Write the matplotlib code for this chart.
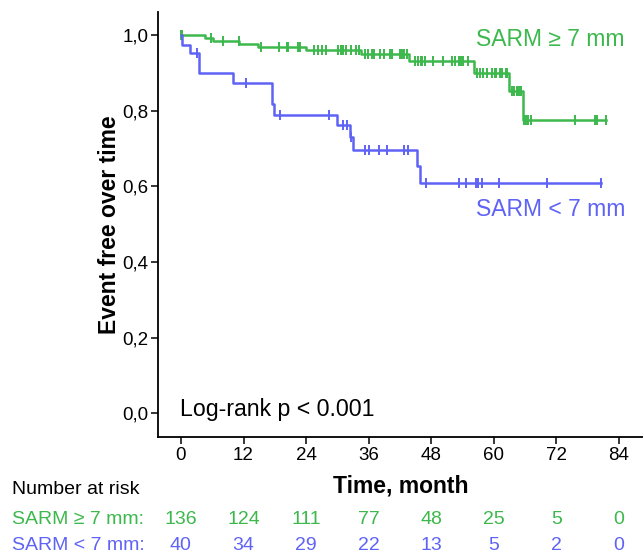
import numpy as np
import matplotlib
matplotlib.use("Agg")
import matplotlib.pyplot as plt
from matplotlib.transforms import blended_transform_factory
from matplotlib import font_manager

GREEN = "#3cb84c"
BLUE = "#5f63f5"

# SARM >= 7 mm: step times (months) and survival after each step
green_t = [0, 4.6, 6.1, 11.2, 14.7, 23.9, 34.6, 43.8, 56.1, 63.0, 65.5, 81.6]
green_s = [1.0, 0.992, 0.985, 0.977, 0.969, 0.962, 0.950, 0.933, 0.901, 0.853, 0.775, 0.775]
green_cens = [0.1, 0.3, 5.7, 8.1, 11.1, 15.3, 18.8, 20.4, 20.6, 22.4, 22.8, 25.6,
              26.3, 27.1, 27.9, 30.2, 30.7, 31.1, 31.6, 32.6, 33.5, 34.1, 35.3,
              35.9, 36.6, 37.1, 38.2, 39.0, 40.1, 40.5, 42.0, 42.3, 42.8, 43.4,
              44.9, 45.5, 46.0, 46.3, 46.8, 48.4, 50.3, 51.9, 52.5, 53.4, 53.7,
              54.0, 55.1, 56.8, 57.3, 58.0, 58.6, 59.6, 60.2, 60.5, 61.2, 61.6,
              62.3, 62.6, 63.4, 63.9, 64.5, 64.9, 65.3, 65.8, 66.2, 66.6, 67.1,
              75.6, 79.4, 79.7, 81.6]

# SARM < 7 mm
blue_t = [0, 0.3, 1.8, 3.5, 10.0, 17.5, 17.8, 30.0, 32.5, 33.0, 45.3, 45.8, 80.6]
blue_s = [1.0, 0.975, 0.952, 0.900, 0.875, 0.817, 0.790, 0.762, 0.730, 0.697, 0.653, 0.610, 0.610]
blue_cens = [3.0, 12.5, 19.0, 28.4, 31.1, 31.9, 32.7, 35.3, 36.1, 38.0, 39.6,
             42.8, 43.6, 47.0, 53.4, 54.7, 56.6, 57.0, 57.7, 61.0, 70.1, 80.6]

risk_times = [0, 12, 24, 36, 48, 60, 72, 84]
risk_green = [136, 124, 111, 77, 48, 25, 5, 0]
risk_blue = [40, 34, 29, 22, 13, 5, 2, 0]

names = {f.name for f in font_manager.fontManager.ttflist}
NARROW = "Liberation Sans Narrow" if "Liberation Sans Narrow" in names else "Liberation Sans"
plt.rcParams["font.family"] = ["Liberation Sans", "DejaVu Sans"]

fig = plt.figure(figsize=(6.43, 5.56), dpi=100)
ax = fig.add_axes([0.2457, 0.214, 0.7543, 0.764])


def level(ts, ss, x):
    i = np.searchsorted(ts, x, side="right") - 1
    return np.array(ss)[i]


for ts, ss, cens, col in [(green_t, green_s, green_cens, GREEN),
                          (blue_t, blue_s, blue_cens, BLUE)]:
    ax.step(ts, ss, where="post", color=col, lw=1.8)
    ax.plot(cens, level(ts, ss, np.array(cens)), ls="none", marker="|",
            ms=6.5, mew=1.4, color=col)

ax.set_xlim(-4.4, 88.6)
ax.set_ylim(-0.063, 1.061)
ax.set_xticks(risk_times)
ax.set_yticks([0, 0.2, 0.4, 0.6, 0.8, 1.0])
ax.set_yticklabels(["0,0", "0,2", "0,4", "0,6", "0,8", "1,0"])
for s in ["top", "right"]:
    ax.spines[s].set_visible(False)
ax.spines["left"].set_linewidth(1.3)
ax.spines["bottom"].set_linewidth(1.3)
ax.tick_params(length=5, width=1.1, labelsize=13.5, pad=2)
for lab in ax.get_xticklabels() + ax.get_yticklabels():
    lab.set_family(NARROW)

ax.set_xlabel("Time, month", fontsize=16.5, fontweight="bold", labelpad=8)
ax.set_ylabel("Event free over time", fontsize=16.5, fontweight="bold", labelpad=1)

ax.text(56.5, 0.99, "SARM \u2265 7 mm", color=GREEN, fontsize=16.5, va="center")
ax.text(56.5, 0.54, "SARM < 7 mm", color=BLUE, fontsize=16.5, va="center")
ax.text(-0.2, 0.01, "Log-rank p < 0.001", color="black", fontsize=16.7, va="center")

tr = blended_transform_factory(ax.transData, fig.transFigure)
fig.text(0.019, 0.12, "Number at risk", fontsize=14, family=NARROW, va="center")
fig.text(0.019, 0.066, "SARM \u2265 7 mm:", fontsize=14, color=GREEN, family=NARROW, va="center")
fig.text(0.019, 0.018, "SARM < 7 mm:", fontsize=14, color=BLUE, family=NARROW, va="center")
for t, g, b in zip(risk_times, risk_green, risk_blue):
    ax.text(t, 0.066, str(g), transform=tr, ha="center", va="center",
            fontsize=14, color=GREEN, family=NARROW)
    ax.text(t, 0.018, str(b), transform=tr, ha="center", va="center",
            fontsize=14, color=BLUE, family=NARROW)

fig.savefig("out.png", dpi=100)
